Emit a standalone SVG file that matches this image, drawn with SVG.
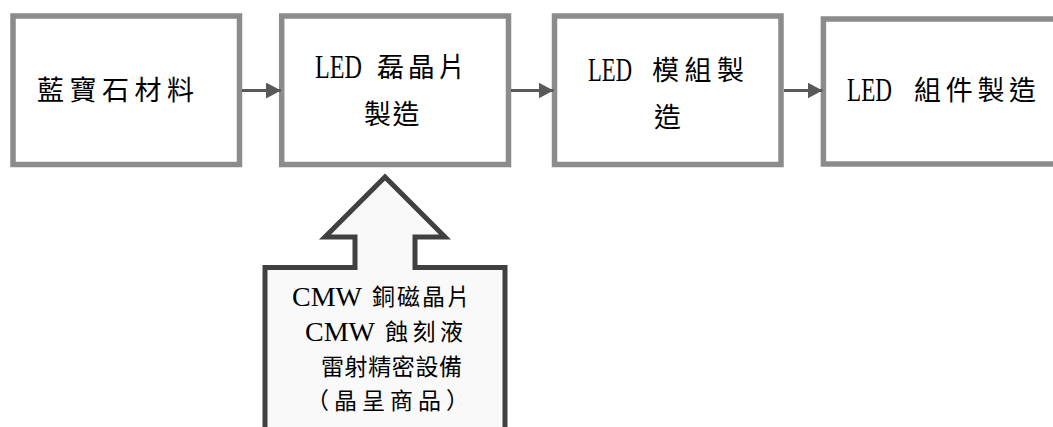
<svg xmlns="http://www.w3.org/2000/svg" width="1053" height="427" viewBox="0 0 1053 427">
  <style>
    .box { fill: #ffffff; stroke: #8c8c8c; stroke-width: 5.5; }
    .big { fill: #f9f9f9; stroke: #404040; stroke-width: 5; stroke-linejoin: miter; }
    .cjk { font-family: "Noto Sans CJK TC", "Noto Sans CJK SC", sans-serif; fill: #000; }
    .lat { font-family: "Liberation Serif", "DejaVu Serif", serif; fill: #000; }
    .conn { stroke: #595959; stroke-width: 3; fill: none; }
  </style>
  <defs>
    <marker id="ah" markerUnits="userSpaceOnUse" markerWidth="16" markerHeight="16" refX="15" refY="8" orient="auto">
      <path d="M0,0 L15,8 L0,16 Z" fill="#595959"/>
    </marker>
  </defs>
  <rect width="1053" height="427" fill="#ffffff"/>

  <g id="node-sapphire">
    <rect class="box" x="13" y="16" width="226.5" height="148.5"/>
    <text class="cjk" x="37" y="100" font-size="27" letter-spacing="5.5">藍寶石材料</text>
  </g>

  <g id="node-epi">
    <rect class="box" x="281.7" y="16" width="226.8" height="148.5"/>
    <text class="lat" x="315" y="78" font-size="33" textLength="47" lengthAdjust="spacingAndGlyphs">LED</text>
    <text class="cjk" x="377" y="77" font-size="27" letter-spacing="3.7">磊晶片</text>
    <text class="cjk" x="364" y="124" font-size="27" letter-spacing="1.5">製造</text>
  </g>

  <g id="node-module">
    <rect class="box" x="554.5" y="16" width="226.5" height="148.5"/>
    <text class="lat" x="588" y="81" font-size="33" textLength="44" lengthAdjust="spacingAndGlyphs">LED</text>
    <text class="cjk" x="652" y="80" font-size="27" letter-spacing="5.5">模組製</text>
    <text class="cjk" x="654" y="127" font-size="27">造</text>
  </g>

  <g id="node-component">
    <rect class="box" x="823.4" y="19" width="260" height="145"/>
    <text class="lat" x="847" y="101" font-size="33" textLength="45" lengthAdjust="spacingAndGlyphs">LED</text>
    <text class="cjk" x="914" y="100" font-size="27" letter-spacing="4.7">組件製造</text>
  </g>

  <g id="node-supplier">
    <polygon class="big" points="385,177 445,237 415,237 415,267.5 505,267.5 505,440 265,440 265,267.5 355,267.5 355,237 325,237"/>
    <text class="lat" x="292" y="306" font-size="28" textLength="70" lengthAdjust="spacingAndGlyphs">CMW</text>
    <text class="cjk" x="372" y="305" font-size="23" letter-spacing="2">銅磁晶片</text>
    <text class="lat" x="305" y="341" font-size="28" textLength="70" lengthAdjust="spacingAndGlyphs">CMW</text>
    <text class="cjk" x="385" y="340" font-size="23" letter-spacing="4.5">蝕刻液</text>
    <text class="cjk" x="321" y="375" font-size="23" letter-spacing="0.6">雷射精密設備</text>
    <text class="cjk" x="306" y="409" font-size="23" letter-spacing="5">（晶呈商品）</text>
  </g>

  <g id="connectors">
    <line class="conn" x1="242" y1="90.5" x2="281" y2="90.5" marker-end="url(#ah)"/>
    <line class="conn" x1="511" y1="90.5" x2="553.5" y2="90.5" marker-end="url(#ah)"/>
    <line class="conn" x1="784" y1="90.5" x2="822.5" y2="90.5" marker-end="url(#ah)"/>
  </g>
</svg>
